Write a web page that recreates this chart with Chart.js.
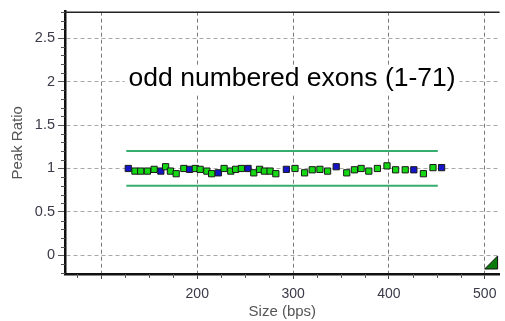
<!DOCTYPE html>
<html>
<head>
<meta charset="utf-8">
<script src="https://cdn.jsdelivr.net/npm/chart.js@4/dist/chart.umd.min.js"></script>
<style>
html,body{margin:0;padding:0;background:#fff;}
#wrap{width:505px;height:321px;position:relative;}
</style>
</head>
<body>
<div id="wrap"><canvas id="c"></canvas></div>
<script>
// ---- data ----
const sizes  = [128,135,141,148,155,162,167,172,178,186,192,198,203,210,215,222,228,235,240,246,253,259,265,270,276,282,293,302,312,320,328,336,345,356,364,371,379,388,398,407,417,426,436,446,455];
const ratios = [1.00,0.97,0.97,0.97,0.99,0.97,1.02,0.97,0.94,1.00,0.99,1.00,0.99,0.97,0.94,0.95,1.00,0.97,0.99,1.00,1.00,0.95,0.99,0.97,0.97,0.94,0.99,1.00,0.95,0.985,0.99,0.97,1.02,0.95,0.985,1.00,0.97,1.00,1.03,0.985,0.985,0.985,0.94,1.01,1.01];
const kinds  = ['B','G','G','G','G','B','G','G','G','G','B','G','G','G','G','B','G','G','G','G','B','G','G','G','G','G','B','G','G','G','G','G','B','G','G','G','G','G','G','G','G','B','G','G','B'];
const limitUpper = 1.2;
const limitLower = 0.8;
const limitSizes = [126, 451];
const xTickLabels = [200, 300, 400, 500];
const yTickLabels = [0, 0.5, 1, 1.5, 2, 2.5];
const annotationText = 'odd numbered exons (1-71)';
const xTitle = 'Size (bps)';
const yTitle = 'Peak Ratio';

const kindColor = {G:'#14d814', B:'#1414c8'};
const points = sizes.map((s,i)=>({x:s, y:ratios[i]}));
const pointColors = kinds.map(k=>kindColor[k]);

const FONT = 'Liberation Sans, Arial, sans-serif';

const xMin = 62, xMax = 515.5, yMin = -0.2135, yMax = 2.803;

function isMult(v, m){ return Math.abs(v/m - Math.round(v/m)) < 1e-6; }

const decor = {
  id:'decor',
  afterDraw(chart){
    const {ctx, chartArea:a, scales:{x,y}} = chart;
    ctx.save();
    // top frame line
    ctx.strokeStyle = '#222'; ctx.lineWidth = 1.5;
    ctx.beginPath(); ctx.moveTo(a.left, a.top+0.5); ctx.lineTo(a.right, a.top+0.5); ctx.stroke();
    // minor tick marks (short)
    ctx.strokeStyle = '#555'; ctx.lineWidth = 1;
    y.ticks.forEach(t=>{
      if (isMult(t.value,0.5)) return;
      const py = Math.round(y.getPixelForValue(t.value)) + 0.5;
      ctx.beginPath(); ctx.moveTo(a.left - 4, py); ctx.lineTo(a.left, py); ctx.stroke();
    });
    x.ticks.forEach(t=>{
      if (isMult(t.value,100)) return;
      const px = Math.round(x.getPixelForValue(t.value)) + 0.5;
      ctx.beginPath(); ctx.moveTo(px, a.bottom); ctx.lineTo(px, a.bottom + 4); ctx.stroke();
    });
    // annotation text
    ctx.font = '26.5px ' + FONT;
    const tx = x.getPixelForValue(299), ty = y.getPixelForValue(2.03);
    const w = ctx.measureText(annotationText).width;
    ctx.fillStyle = '#fff';
    ctx.fillRect(tx - w/2 - 4, ty - 14, w + 8, 28);
    ctx.fillStyle = '#000';
    ctx.textAlign = 'center'; ctx.textBaseline = 'middle';
    ctx.fillText(annotationText, tx, ty);
    // corner triangle
    ctx.beginPath();
    ctx.moveTo(a.right - 15, a.bottom - 5);
    ctx.lineTo(a.right - 2, a.bottom - 18);
    ctx.lineTo(a.right - 2, a.bottom - 5);
    ctx.closePath();
    ctx.fillStyle = '#0a7a0a'; ctx.fill();
    ctx.strokeStyle = '#111'; ctx.lineWidth = 1; ctx.stroke();
    ctx.restore();
  }
};

new Chart(document.getElementById('c'), {
  type:'scatter',
  data:{
    datasets:[
      {
        type:'scatter',
        data:points,
        pointStyle:'rect',
        pointRadius:4.4,
        pointBackgroundColor:pointColors,
        pointBorderColor:'#1a1a1a',
        pointBorderWidth:1,
        order:1
      },
      {
        type:'line',
        data:limitSizes.map(s=>({x:s,y:limitUpper})),
        borderColor:'#35ad6e', borderWidth:2, pointRadius:0, order:2
      },
      {
        type:'line',
        data:limitSizes.map(s=>({x:s,y:limitLower})),
        borderColor:'#35ad6e', borderWidth:2, pointRadius:0, order:2
      }
    ]
  },
  options:{
    responsive:true,
    maintainAspectRatio:false,
    animation:false,
    layout:{padding:{top:5,left:0,right:0,bottom:0}},
    plugins:{legend:{display:false}, tooltip:{enabled:false}},
    scales:{
      x:{
        type:'linear', min:xMin, max:xMax,
        afterBuildTicks(s){ const t=[]; for(let v=75; v<=500; v+=25) t.push({value:v}); s.ticks=t; },
        afterFit(s){ s.height = 47; },
        ticks:{
          autoSkip:false, maxRotation:0, padding:7,
          color:'#3a3a48', font:{family:FONT, size:14},
          callback(v){ return xTickLabels.includes(v) ? String(v) : ''; }
        },
        grid:{
          drawTicks:true, tickLength:5,
          color(ctx){ const v=ctx.tick && ctx.tick.value; return (v!==undefined && isMult(v,100)) ? '#7a7a7a' : 'rgba(0,0,0,0)'; },
          tickColor(ctx){ const v=ctx.tick && ctx.tick.value; return (v!==undefined && isMult(v,100)) ? '#444' : 'rgba(0,0,0,0)'; },
          lineWidth:1
        },
        border:{display:true, color:'#111', width:2.5, dash:[4,3]},
        title:{display:true, text:xTitle, color:'#555', font:{family:FONT, size:15}, padding:{top:0,bottom:0}}
      },
      y:{
        type:'linear', min:yMin, max:yMax,
        afterBuildTicks(s){ const t=[]; for(let i=-2;i<=28;i++) t.push({value:+(i/10).toFixed(1)}); s.ticks=t; },
        afterFit(s){ s.width = 65; },
        ticks:{
          autoSkip:false, padding:3,
          color:'#3a3a48', font:{family:FONT, size:14.5},
          callback(v){ return yTickLabels.some(l=>Math.abs(l-v)<1e-6) ? String(v) : ''; }
        },
        grid:{
          drawTicks:true, tickLength:7,
          color(ctx){ const v=ctx.tick && ctx.tick.value; return (v!==undefined && isMult(v,0.5)) ? '#a8a8a8' : 'rgba(0,0,0,0)'; },
          tickColor(ctx){ const v=ctx.tick && ctx.tick.value; return (v!==undefined && isMult(v,0.5)) ? '#555' : 'rgba(0,0,0,0)'; },
          lineWidth:1
        },
        border:{display:true, color:'#111', width:2.5, dash:[4,3]},
        title:{display:true, text:yTitle, color:'#555', font:{family:FONT, size:15}, padding:{top:9,bottom:0}}
      }
    }
  },
  plugins:[decor]
});
</script>
</body>
</html>
